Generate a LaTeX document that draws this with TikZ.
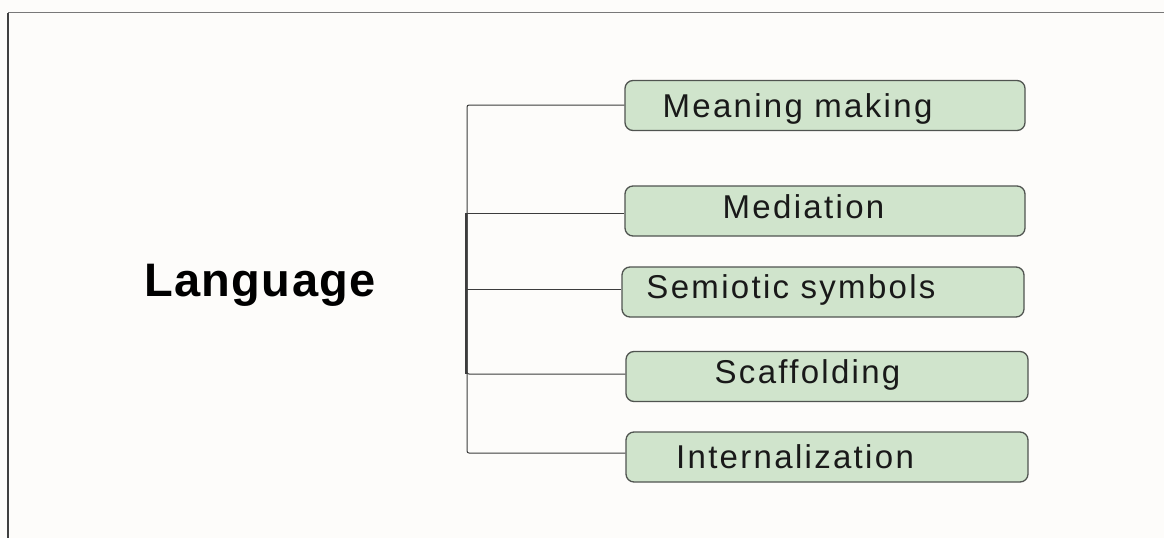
\documentclass[tikz,border=0pt]{standalone}
\usepackage{fontspec}
\setmainfont{Liberation Sans}
\newfontfamily\itemfont[LetterSpace=7]{Liberation Sans}
\newfontfamily\headfont[LetterSpace=3]{Liberation Sans}
\definecolor{pagebg}{RGB}{253,252,250}
\definecolor{boxfill}{RGB}{208,228,204}
\definecolor{boxline}{RGB}{80,84,80}
\definecolor{wire}{RGB}{60,60,60}
\definecolor{framegray}{RGB}{120,120,120}
\tikzset{
  itembox/.style={draw=boxline, line width=1.3pt, fill=boxfill, rounded corners=8pt,
    minimum width=400pt, minimum height=50pt, inner sep=0pt},
  itemtext/.style={anchor=base, inner sep=0pt, text=black!90,
    font=\itemfont\fontsize{33}{35}\selectfont},
  headtext/.style={anchor=base, inner sep=0pt, text=black,
    font=\headfont\bfseries\fontsize{47}{50}\selectfont},
  wireline/.style={draw=wire, line width=1pt},
}
\begin{document}
\begin{tikzpicture}[x=1pt, y=-1pt]
  % page and partial frame
  \fill[pagebg] (0,0) rectangle (1164,538);
  \useasboundingbox (0,0) rectangle (1164,538);
  \coordinate (ftl) at (8,12.5);
  \coordinate (ftr) at (1164,12.5);
  \coordinate (fbl) at (8,538);
  \draw[framegray, line width=1.3pt] (ftl) -- (ftr);
  \draw[black!75, line width=1.8pt] (ftl) -- (fbl);

  % heading
  \node[headtext] (lang) at (260,296) {Language};

  % item boxes
  \node[itembox] (b1) at (825,105.5) {};
  \node[itembox] (b2) at (825,211) {};
  \node[itembox, minimum width=402pt] (b3) at (823,292) {};
  \node[itembox, minimum width=402pt] (b4) at (827,376.5) {};
  \node[itembox, minimum width=402pt] (b5) at (827,457) {};

  % item labels
  \node[itemtext] (t1) at (797.5,117.5) {Meaning making};
  \node[itemtext] (t2) at (803.5,218.5) {Mediation};
  \node[itemtext] (t3) at (791,298.5) {Semiotic symbols};
  \node[itemtext] (t4) at (807.5,383.5) {Scaffolding};
  \node[itemtext] (t5) at (795,468.5) {Internalization};

  % bracket spine and junctions
  \coordinate (j1) at (467,105);
  \coordinate (j2) at (467,213);
  \coordinate (j3) at (467,289);
  \coordinate (j4) at (467,374);
  \coordinate (j5) at (467,453);

  \draw[wireline, rounded corners=2pt] (j1 -| b1.west) -- (j1) -- (j5) -- (j5 -| b5.west);
  \draw[wireline] (j2) -- (j2 -| b2.west);
  \draw[wireline] (j3) -- (j3 -| b3.west);
  \draw[wireline, rounded corners=2pt] (j2) -- (j4) -- (j4 -| b4.west);
  \draw[wire, line width=1.6pt] ([xshift=-0.8pt]j2) -- ([xshift=-0.8pt]j4);
\end{tikzpicture}
\end{document}
